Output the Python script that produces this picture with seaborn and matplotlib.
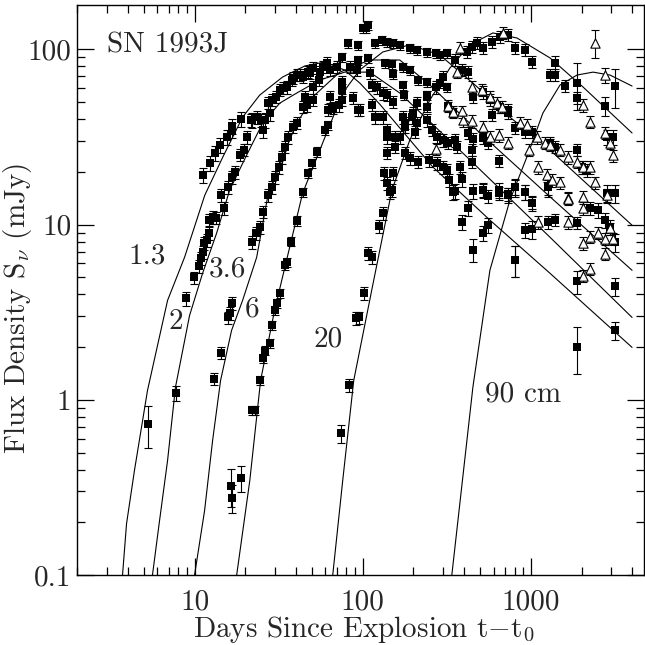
import matplotlib
matplotlib.use("Agg")
import matplotlib.pyplot as plt
import matplotlib.ticker as mticker
import numpy as np
import pandas as pd
import seaborn as sns

# ---------------- model curves ----------------
curve13_t = [3.73, 3.94, 4.39, 5.25, 6.91, 8.72, 11.5, 14.7, 19.3, 24.4, 33.4, 45.2, 59.4, 78.1, 96.0, 126, 261, 570, 1298, 3992]
curve13_s = [0.1, 0.196, 0.394, 1.13, 3.69, 6.50, 14.7, 24.2, 41.0, 54.8, 69.5, 80.3, 84.6, 76.1, 64.2, 48.7, 21.3, 10.6, 5.27, 1.99]

curve2_t = [5.62, 6.19, 6.91, 7.70, 9.34, 11.16, 13.52, 16.16, 20.4, 25.4, 32.1, 40.5, 55.5, 78.1, 110, 166, 416, 1298, 3992]
curve2_s = [0.1, 0.204, 0.45, 1.18, 3.03, 5.27, 8.92, 15.7, 24.9, 37.9, 49.3, 56.3, 66.8, 74.1, 74.1, 56.3, 24.3, 8.46, 2.95]

curve36_t = [10.0, 11.47, 12.8, 14.28, 16.6, 19.3, 23.4, 27.2, 35.3, 40.5, 51.8, 73.0, 110, 166, 250, 497, 1298, 3992]
curve36_s = [0.1, 0.233, 0.585, 1.29, 2.49, 3.69, 6.50, 14.4, 27.7, 37.9, 54.8, 74.1, 86.9, 86.9, 62.7, 33.3, 14.4, 5.48]

curve6_t = [17.8, 21.3, 24.7, 29.9, 43.9, 61.0, 76.0, 96.0, 131.6, 190.5, 287, 464, 750, 1298, 3992]
curve6_s = [0.1, 0.346, 1.29, 3.24, 15.1, 33.3, 56.3, 76.2, 96.6, 106, 92.9, 62.7, 41.0, 26.6, 9.91]

curve20_t = [66.3, 76.0, 88.4, 113, 149, 190.5, 250.6, 329.7, 433, 594, 826, 1298, 2041, 3992]
curve20_s = [0.1, 0.346, 1.29, 4.21, 15.7, 30.4, 51.4, 78.2, 106, 124, 116, 89.3, 60.9, 33.3]

curve90_t = [338.5, 451.6, 570, 750, 946, 1178, 1488, 1879, 2340, 2951, 3992]
curve90_s = [0.1, 1.18, 5.48, 13.8, 24.3, 43.3, 62.5, 71.3, 74.1, 71.3, 61.7]

# ---------------- measurements (days, mJy, error in %) ----------------
t13 = [5.32, 11.2, 12.3, 13.2, 14.1, 15.5, 16.6, 16.8, 19.0, 22.1, 25.4, 26.1, 28.0, 32.1, 35.3, 37.8, 42.2, 47.0, 50.4, 57.8,
       61.0, 70.0, 96, 113, 118, 132, 139, 166, 178, 190, 213, 247, 276, 299, 316, 325, 353, 389, 422, 389,
       452, 518, 555, 803, 921, 1878, 1878, 3163, 3163]
s13 = [0.73, 19.1, 22.4, 25.6, 28.4, 31.5, 34.6, 36.5, 39.9, 39.4, 34.6, 39.4, 43.3, 58.5, 60.8, 66.8, 71.3, 74.2, 78.3, 79.3,
       83.6, 79.3, 45.0, 48.4, 41.0, 41.0, 34.6, 31.5, 25.6, 23.9, 22.7, 23.3, 22.4, 21.2, 20.4, 17.9, 15.5, 18.1, 12.4, 10.3,
       7.2, 8.9, 9.9, 6.25, 9.28, 4.74, 2.0, 4.44, 2.49]
e13 = [27, 10, 10, 10, 10, 10, 10, 10, 10, 10, 10, 10, 10, 8, 8, 8, 8, 8, 8, 8,
       8, 8, 8, 8, 8, 8, 8, 8, 8, 8, 8, 8, 8, 8, 8, 8, 10, 10, 10, 10,
       15, 10, 10, 20, 10, 15, 30, 12, 12]

t2 = [7.71, 8.84, 9.86, 10.56, 10.86, 11.16, 11.31, 11.78, 12.11, 12.11, 12.8, 13.5, 14.3, 14.9, 15.7, 16.6, 17.3, 18.5, 19.8, 20.4,
      21.8, 23.4, 25.0, 27.2, 28.7, 30.7, 33.4, 38.3, 40.4, 43.9, 48.4, 55.5, 63.6, 75, 83.7, 92.1, 110, 113, 121, 131.6,
      140, 151, 173, 178, 196, 204, 210, 240, 258, 276, 299, 320, 378, 446, 518, 555, 645, 730, 1014, 1263,
      1390, 1878, 2245, 2505, 2758, 2953, 3163]
s2 = [1.09, 3.79, 4.99, 5.78, 6.42, 6.94, 7.83, 8.14, 8.92, 10.6, 11.0, 10.9, 14.7, 12.4, 16.3, 18.6, 19.9, 24.9, 26.6, 31.5,
      39.4, 41.0, 39.4, 49.3, 51.3, 53.4, 60.1, 68.6, 71.3, 69.5, 73.2, 74.2, 76.2, 64.9, 79.3, 76.2, 73.2, 62.5, 60.8, 56.1,
      54.8, 50.0, 41.0, 36.0, 41.0, 33.7, 37.9, 39.4, 34.6, 31.5, 30.3, 29.2, 21.2, 22.7, 15.7, 14.5, 15.1, 14.9, 13.3, 10.3,
      10.6, 10.2, 12.4, 12.1, 10.6, 9.65, 7.93]
e2 = [10, 9, 8, 8, 8, 8, 8, 8, 8, 8, 8, 8, 8, 8, 8, 8, 8, 8, 8, 8,
      8, 8, 8, 8, 8, 8, 8, 8, 8, 8, 8, 8, 8, 8, 8, 8, 8, 8, 8, 8,
      8, 8, 8, 8, 8, 8, 8, 8, 8, 8, 8, 8, 8, 8, 8, 8, 8, 8, 8, 8,
      8, 8, 8, 10, 10, 10, 12]

t36 = [12.97, 14.3, 15.7, 16.16, 16.8, 22.1, 23.1, 24.4, 25.4, 27.2, 28.7, 29.9, 31.6, 33.0, 34.3, 35.8, 38.3, 40.4, 43.9, 45.2,
       46.4, 50.4, 50.4, 54.7, 61.9, 63.6, 66.3, 72.0, 75.0, 75.0, 87.2, 93.4, 139, 155, 343, 455, 518, 645, 730, 803,
       921, 1263, 2833, 3163]
s36 = [1.32, 1.86, 2.95, 3.12, 3.55, 7.93, 8.92, 9.65, 11.8, 14.7, 16.3, 18.6, 21.2, 24.2, 27.7, 31.5, 36.0, 37.9, 46.8, 53.4,
       48.0, 51.3, 60.8, 66.8, 45.0, 53.4, 46.2, 48.0, 58.5, 51.3, 52.7, 45.0, 31.5, 27.7, 15.3, 15.5, 15.7, 15.7, 14.7, 16.3,
       15.3, 16.3, 15.1, 15.1]
e36 = [8, 8, 8, 8, 8, 8, 8, 8, 8, 8, 8, 8, 8, 8, 8, 8, 8, 8, 8, 8,
       8, 8, 8, 8, 8, 8, 8, 8, 8, 8, 8, 8, 8, 8, 10, 10, 10, 10, 10, 10,
       10, 10, 12, 12]

t6 = [16.4, 16.8, 19.0, 22.1, 22.8, 24.4, 25.4, 26.1, 28.0, 29.0, 29.9, 30.8, 32.1, 34.3, 35.3, 37.5, 40.4, 43.9, 47.1, 49.7,
      53.2, 59.4, 61.9, 66.3, 75.0, 81.4, 93.4, 93.4, 100, 104, 107, 107, 118, 130, 135, 139, 149, 151, 151, 166,
      173, 173, 175, 190, 190, 210, 213, 240, 240, 240, 240, 272, 287, 287, 316, 316, 320, 343, 353, 363,
      422, 446, 452, 452, 518, 518, 555, 570, 586, 645, 654, 730, 730, 803, 921, 1014, 1298, 1390, 1878, 2012,
      2153, 2833, 3077]
s6 = [0.324, 0.276, 0.36, 0.87, 0.87, 1.29, 1.72, 1.91, 2.1, 2.66, 3.24, 3.55, 4.05, 5.85, 6.1, 8.0, 10.5, 15.3, 19.6, 22.4,
      26.0, 34.6, 37.0, 46.8, 90.4, 108.7, 105.8, 86.9, 132, 132, 137.7, 89.2, 108.7, 113, 83.6, 110, 82.5, 108.7, 72.2, 105.8,
      79.3, 62.5, 54.8, 101.7, 76.2, 99.1, 66.8, 96.5, 64.9, 46.8, 54.8, 95.3, 92.8, 63.9, 95.3, 60.8, 47.4, 43.9, 30.3, 27.7,
      33.3, 26.6, 53.4, 30.7, 56.8, 31.2, 29.2, 51.3, 42.1, 23.0, 46.8, 45.0, 43.4, 35.5, 33.8, 33.8, 29.2, 27.7, 26.6, 21.2,
      20.4, 31.5, 31.5]
e6 = [25, 18, 17, 6, 6, 6, 6, 6, 6, 6, 6, 6, 6, 6, 6, 6, 6, 6, 6, 6,
      6, 6, 6, 6, 6, 6, 6, 6, 6, 6, 6, 6, 6, 6, 6, 6, 6, 6, 6, 6,
      6, 6, 6, 6, 6, 6, 6, 6, 6, 6, 6, 6, 6, 6, 6, 6, 6, 6, 8, 8,
      8, 8, 8, 8, 8, 8, 8, 8, 8, 8, 8, 8, 8, 8, 8, 8, 8, 8, 8, 8,
      8, 10, 10]

t20 = [74.0, 82.5, 90.9, 94.7, 101.4, 107.1, 113.2, 124.5, 131.6, 134, 139, 139, 144.8, 148.8, 151, 155, 178, 198.5, 209.6, 240.5,
       272, 299.5, 353, 389, 416, 422, 446, 477, 518, 586, 654, 730, 803, 921, 1014, 1298, 1390, 1390, 1594, 1878,
       1878, 2758, 3163]
s20 = [0.642, 1.21, 2.92, 2.95, 4.05, 6.86, 6.5, 9.78, 11.6, 19.6, 17.2, 25.6, 15.3, 15.7, 19.6, 31.5, 37.9, 43.3, 49.3, 53.4,
       60.8, 69.5, 86.9, 76.2, 96.5, 74.2, 103, 108.7, 101.8, 110, 117.5, 120.7, 101.8, 99.1, 84.6, 71.3, 83.6, 71.3, 61.7, 64.2,
       52.7, 47.4, 61.7]
e20 = [12, 8, 8, 8, 8, 8, 8, 8, 8, 8, 8, 8, 8, 8, 8, 8, 8, 8, 8, 8,
       8, 8, 8, 8, 8, 8, 8, 8, 8, 8, 8, 8, 8, 8, 8, 8, 10, 8, 8, 30,
       8, 12, 25]

t90 = [803, 803, 921, 1014, 1014, 1263]
s90 = [6.25, 16.3, 15.3, 13.3, 9.4, 16.3]
e90 = [20, 12, 10, 10, 12, 12]

tri_t = [681, 378, 363, 446, 511, 570, 627, 672, 860, 946, 1085, 1211, 1298, 1488, 1660, 1878, 2039, 2245, 2404, 2039,
         2245, 2758, 2404, 2758, 2953, 3077, 1660, 2833, 518, 570, 645, 730, 973, 1101, 1244, 1334, 1488, 394, 389, 446,
         1101, 1660, 1660, 2039, 2039, 2039, 2245, 2245, 2039, 2505, 2758, 2953, 3077, 2758, 272, 320, 343]
tri_s = [124, 101.8, 74.2, 60.8, 58.5, 53.4, 49.3, 46.8, 37.9, 37.0, 31.5, 29.2, 28.4, 26.6, 24.2, 22.7, 21.2, 21.2, 17.4, 48.0,
         38.4, 71.3, 108.7, 33.3, 29.2, 24.8, 14.2, 14.7, 36.0, 31.5, 32.3, 29.2, 26.6, 21.2, 19.1, 17.9, 17.4, 39.4, 44.2, 38.9,
         10.3, 14.0, 10.3, 14.3, 12.4, 7.83, 8.5, 5.6, 5.1, 9.0, 8.3, 9.5, 8.3, 6.8, 27, 47.4, 43.9]
tri_e = [8, 8, 8, 8, 8, 8, 8, 8, 8, 8, 8, 8, 8, 8, 8, 8, 8, 8, 8, 8,
         8, 10, 18, 8, 8, 8, 8, 8, 8, 8, 8, 8, 8, 8, 8, 8, 8, 8, 8, 8,
         8, 8, 8, 8, 8, 8, 8, 8, 8, 8, 8, 8, 8, 8, 8, 8, 8]

curve_labels = ["1.3", "2", "3.6", "6", "20", "90 cm"]
label_t = [5.25, 7.76, 15.6, 22.0, 61.9, 902]
label_s = [6.59, 2.78, 5.52, 3.30, 2.21, 1.08]

x_ticks = [10, 100, 1000]
y_ticks = [0.1, 1, 10, 100]
y_ticklabels = ["0.1", "1", "10", "100"]

# ---------------- style ----------------
sns.set_style("ticks")
plt.rcParams["font.family"] = ["cmr10", "DejaVu Serif"]
plt.rcParams["mathtext.fontset"] = "cm"
plt.rcParams["axes.formatter.use_mathtext"] = True
FS = 21

fig = plt.figure(figsize=(6.45, 6.45), dpi=100)
ax = fig.add_axes([77 / 645, 70 / 645, 567 / 645, 570 / 645])
ax.set_xscale("log")
ax.set_yscale("log")

curves = [(curve13_t, curve13_s), (curve2_t, curve2_s), (curve36_t, curve36_s),
          (curve6_t, curve6_s), (curve20_t, curve20_s), (curve90_t, curve90_s)]
for ct, cs in curves:
    sns.lineplot(x=ct, y=cs, ax=ax, color="black", lw=0.8, sort=False, estimator=None)

sq_sets = [(t13, s13, e13), (t2, s2, e2), (t36, s36, e36), (t6, s6, e6), (t20, s20, e20), (t90, s90, e90)]
for tt, ss, ee in sq_sets:
    assert len(tt) == len(ss) == len(ee)
    df = pd.DataFrame({"t": tt, "s": ss, "e": np.array(ss) * np.array(ee) / 100.0})
    ax.errorbar(df["t"], df["s"], yerr=df["e"], fmt="none", ecolor="black",
                elinewidth=0.8, capsize=3.2, capthick=0.8, zorder=3)
    sns.scatterplot(data=df, x="t", y="s", ax=ax, marker="s", s=30, color="black",
                    edgecolor="black", linewidth=0, zorder=4)

assert len(tri_t) == len(tri_s) == len(tri_e)
dft = pd.DataFrame({"t": tri_t, "s": tri_s, "e": np.array(tri_s) * np.array(tri_e) / 100.0})
ax.errorbar(dft["t"], dft["s"], yerr=dft["e"], fmt="none", ecolor="black",
            elinewidth=0.8, capsize=3.2, capthick=0.8, zorder=3)
sns.scatterplot(data=dft, x="t", y="s", ax=ax, marker="^", s=45, facecolor="white",
                edgecolor="black", linewidth=0.8, zorder=5)

ax.set_xlim(2, 4700)
ax.set_ylim(0.1, 179)

ax.xaxis.set_major_locator(mticker.FixedLocator(x_ticks))
ax.xaxis.set_major_formatter(mticker.FixedFormatter([str(v) for v in x_ticks]))
ax.xaxis.set_minor_locator(mticker.LogLocator(base=10, subs=np.arange(2, 10), numticks=20))
ax.xaxis.set_minor_formatter(mticker.NullFormatter())
ax.yaxis.set_major_locator(mticker.FixedLocator(y_ticks))
ax.yaxis.set_major_formatter(mticker.FixedFormatter(y_ticklabels))
ax.yaxis.set_minor_locator(mticker.LogLocator(base=10, subs=np.arange(2, 10), numticks=20))
ax.yaxis.set_minor_formatter(mticker.NullFormatter())

ax.tick_params(which="both", direction="in", top=True, right=True, color="black", width=0.9)
ax.tick_params(which="major", length=12, labelsize=FS)
ax.tick_params(which="minor", length=6)
ax.tick_params(axis="x", which="major", pad=10)
ax.tick_params(axis="y", which="major", pad=4)
for sp in ax.spines.values():
    sp.set_linewidth(1.0)
    sp.set_color("black")

ax.set_xlabel(r"Days Since Explosion $\mathrm{t}{-}\mathrm{t}_0$", fontsize=FS)
ax.set_ylabel(r"Flux Density S$_\nu$ (mJy)", fontsize=FS)
ax.xaxis.set_label_coords(0.505, -0.069)
ax.yaxis.set_label_coords(-0.075, 0.467)

ax.text(0.053, 0.93, "SN 1993J", transform=ax.transAxes, fontsize=FS, ha="left", va="center")
for lab, lt, ls in zip(curve_labels, label_t, label_s):
    ax.text(lt, ls, lab, fontsize=FS, ha="center", va="center")

fig.savefig("out.png", dpi=100)
